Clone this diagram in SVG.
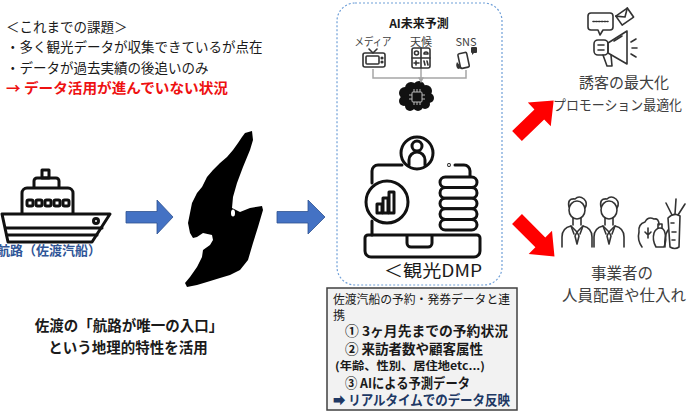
<svg xmlns="http://www.w3.org/2000/svg" width="697" height="414" viewBox="0 0 697 414">
  <defs>
    <style>
      .jp { font-family: "Noto Sans CJK JP", "Noto Sans", sans-serif; }
      .b { font-weight: bold; }
      .dk { fill: #1a1a1a; }
      .gr { fill: #404040; }
      .ico { fill: none; stroke: #111; stroke-width: 3; stroke-linejoin: round; stroke-linecap: round; }
      .thin { fill: none; stroke: #333; stroke-width: 1.6; stroke-linejoin: round; stroke-linecap: round; }
      .blue-arrow { fill: #4472c4; stroke: #2f528f; stroke-width: 0.8; }
      .red-arrow { fill: #ff0000; }
      .feed { fill: none; stroke: #a6a6a6; stroke-width: 1.5; }
    </style>
    <marker id="feedHead" viewBox="0 0 10 10" refX="8" refY="5" markerWidth="4" markerHeight="4" orient="auto">
      <path d="M0 0 L10 5 L0 10 Z" fill="#a6a6a6"/>
    </marker>
  </defs>

  <rect width="697" height="414" fill="#ffffff"/>

  <!-- current issues -->
  <g id="issues" class="jp">
    <text x="6" y="32" font-size="13.5" class="dk">＜これまでの課題＞</text>
    <text x="6" y="52" font-size="13.5" class="dk">・多く観光データが収集できているが点在</text>
    <text x="6" y="73" font-size="13.5" class="dk">・データが過去実績の後追いのみ</text>
    <text x="6" y="93" font-size="14" class="b" fill="#ee1111" textLength="222" lengthAdjust="spacingAndGlyphs">→ データ活用が進んでいない状況</text>
  </g>

  <!-- ferry -->
  <g id="ferry">
    <g class="ico" stroke-width="2.8">
      <rect x="42" y="170" width="7" height="8"/>
      <path d="M34 187 V181 a3 3 0 0 1 3 -3 H56 a3 3 0 0 1 3 3 V187"/>
      <path d="M22 213 V193 a5 5 0 0 1 5 -5 H68 a5 5 0 0 1 5 5 V213"/>
      <rect x="27" y="200" width="6" height="6" rx="1.5"/>
      <rect x="36" y="200" width="6" height="6" rx="1.5"/>
      <rect x="45" y="200" width="6" height="6" rx="1.5"/>
      <rect x="54" y="200" width="6" height="6" rx="1.5"/>
      <rect x="63" y="200" width="6" height="6" rx="1.5"/>
      <path d="M2 214 H110 L92 242 H8 Z"/>
      <path d="M6 228 H102"/>
      <path d="M7 235 H97"/>
      <circle cx="96" cy="221" r="2.5"/>
    </g>
    <text x="-3" y="255" font-size="13" class="jp b" fill="#2f5597">航路（佐渡汽船）</text>
  </g>

  <!-- Sado island -->
  <g id="island">
    <path fill="#000" d="M245 133 L252 131 L253 140 L250 150 L243 167 L237 183 L233 197 L232 208 L240 212 L250 208 L262 206 L263 210 L258 227 L253 243 L248 260 L240 270 L230 275 L220 278 L207 282 L197 285 L187 287 L185 283 L190 277 L197 267 L202 257 L203 250 L210 245 L213 240 L212 235 L203 233 L197 237 L193 238 L190 233 L188 223 L190 213 L192 203 L197 193 L202 187 L207 177 L213 170 L220 163 L227 157 L233 150 L238 143 L242 137 Z"/>
    <ellipse cx="233" cy="213" rx="2" ry="3.5" fill="#fff"/>
  </g>

  <!-- tourism DMP platform -->
  <g id="dmp">
    <rect x="337" y="3" width="165" height="282" rx="18" fill="none" stroke="#6f9fd8" stroke-width="1.2" stroke-dasharray="2 2"/>
    <text x="419" y="28" font-size="12" text-anchor="middle" class="jp b dk">AI未来予測</text>
    <text x="373" y="46" font-size="11" text-anchor="middle" class="jp gr" textLength="37" lengthAdjust="spacingAndGlyphs">メディア</text>
    <text x="421" y="46" font-size="11" text-anchor="middle" class="jp gr">天候</text>
    <text x="466" y="46" font-size="11" text-anchor="middle" class="jp gr">SNS</text>

    <!-- TV -->
    <g class="thin" stroke="#444" stroke-width="1.4">
      <rect x="363" y="53" width="22" height="14" rx="2"/>
      <rect x="366" y="56" width="13" height="8" rx="1"/>
      <path d="M369 49 L373 53 L377 49"/>
      <circle cx="382" cy="58" r="0.8"/>
      <circle cx="382" cy="62" r="0.8"/>
    </g>
    <!-- weather -->
    <g class="thin" stroke="#444" stroke-width="1.2">
      <rect x="412" y="48" width="18" height="20" rx="2"/>
      <path d="M421 48 V68 M412 58 H430"/>
      <circle cx="416.5" cy="53" r="2"/>
      <path d="M424 54 a2 2 0 0 1 4 0 Z"/>
      <path d="M414 63 h5 M416 61 v4"/>
      <path d="M424 61 l1 4 M427 61 l1 4"/>
    </g>
    <!-- SNS phone -->
    <g>
      <rect x="459" y="53" width="9" height="15" rx="1.5" fill="none" stroke="#333" stroke-width="1.6" transform="rotate(-12 463 60)"/>
      <path d="M457 62 q-2 4 1 7 l4 -1 z" fill="#333"/>
      <rect x="471" y="47" width="6" height="6" rx="1" fill="#333"/>
      <path d="M472 53 l0 2 l2 -2 z" fill="#333"/>
    </g>

    <!-- brain -->
    <g fill="#111">
      <circle cx="405" cy="93" r="6"/>
      <circle cx="411" cy="88" r="6"/>
      <circle cx="419" cy="87" r="6"/>
      <circle cx="426" cy="91" r="6"/>
      <circle cx="429" cy="98" r="5"/>
      <circle cx="425" cy="104" r="5"/>
      <circle cx="418" cy="106" r="5"/>
      <circle cx="410" cy="106" r="5"/>
      <circle cx="404" cy="101" r="5"/>
      <rect x="405" y="90" width="22" height="16"/>
    </g>
    <g fill="none" stroke="#bbb" stroke-width="1">
      <rect x="412" y="92" width="10" height="10" rx="1"/>
      <path d="M414 92 v-3 M417 92 v-3 M420 92 v-3 M414 102 v3 M417 102 v3 M420 102 v3 M412 95 h-3 M412 99 h-3 M422 95 h3 M422 99 h3"/>
    </g>

    <!-- laptop with profile, analytics and database -->
    <g class="ico">
      <path d="M402 165 H378 a6 6 0 0 0 -6 6 V183"/>
      <path d="M372 221 V235"/>
      <path d="M455 165 H464 a6 6 0 0 1 6 6 V177"/>
      <circle cx="449" cy="165" r="0.4"/>
      <path d="M368 235 H477 a3 3 0 0 1 3 3 V251 a6 6 0 0 1 -6 6 H371 a6 6 0 0 1 -6 -6 V238 a3 3 0 0 1 3 -3 Z"/>
      <path d="M407 236 V243 a4 4 0 0 0 4 4 H428 a4 4 0 0 0 4 -4 V236"/>
      <circle cx="417" cy="153" r="16" fill="#fff"/>
      <circle cx="417" cy="146" r="5"/>
      <path d="M409 165 V160 a8 8 0 0 1 16 0 V165"/>
      <circle cx="387" cy="202" r="21" fill="#fff"/>
      <rect x="377" y="204" width="5" height="9"/>
      <rect x="383" y="198" width="5" height="15"/>
      <rect x="389" y="192" width="5" height="21"/>
      <rect x="440" y="177" width="37" height="10.6" rx="5.3" fill="#fff"/>
      <rect x="440" y="187.6" width="37" height="10.6" rx="5.3" fill="#fff"/>
      <rect x="440" y="198.2" width="37" height="10.6" rx="5.3" fill="#fff"/>
      <rect x="440" y="208.8" width="37" height="10.6" rx="5.3" fill="#fff"/>
      <rect x="440" y="219.4" width="37" height="10.6" rx="5.3" fill="#fff"/>
    </g>
    <text x="384" y="277" font-size="17" class="jp dk" textLength="98" lengthAdjust="spacingAndGlyphs">＜観光DMP</text>
  </g>

  <!-- data linkage box -->
  <g id="linkage">
    <rect x="327" y="288" width="190" height="122" fill="#f2f2f2" stroke="#404040" stroke-width="1.5"/>
    <text x="333" y="304" font-size="12" class="jp dk" textLength="177" lengthAdjust="spacingAndGlyphs">佐渡汽船の予約・発券データと連</text>
    <text x="333" y="320" font-size="12" class="jp dk">携</text>
    <text x="345" y="336" font-size="13.5" class="jp b dk" textLength="163" lengthAdjust="spacingAndGlyphs">① 3ヶ月先までの予約状況</text>
    <text x="345" y="354" font-size="13.5" class="jp b dk">② 来訪者数や顧客属性</text>
    <text x="335" y="370" font-size="11" class="jp b dk" textLength="150" lengthAdjust="spacingAndGlyphs">(年齢、性別、居住地etc...)</text>
    <text x="345" y="388" font-size="13.5" class="jp b dk" textLength="125" lengthAdjust="spacingAndGlyphs">③ AIによる予測データ</text>
    <text x="333" y="405" font-size="13.5" class="jp b" fill="#203864" textLength="177" lengthAdjust="spacingAndGlyphs">➡ リアルタイムでのデータ反映</text>
  </g>

  <!-- promotion outcome -->
  <g id="promotion">
    <g class="thin" stroke="#222" stroke-width="2">
      <path d="M591 13 H610 a3 3 0 0 1 3 3 V27 a3 3 0 0 1 -3 3 H603 L600 35 L598 30 H591 a3 3 0 0 1 -3 -3 V16 a3 3 0 0 1 3 -3 Z"/>
      <path d="M593 21.5 H608" stroke-dasharray="1.4 1.4"/>
      <g transform="rotate(-35 625 17)">
        <rect x="618" y="11" width="14" height="11"/>
        <path d="M618 11 L625 17 L632 11"/>
      </g>
      <rect x="594" y="40" width="14" height="15" rx="4"/>
      <path d="M598 45 H604 M598 50 H604"/>
      <path d="M608 43 L627 31 V64 L608 53 Z"/>
      <path d="M614 41 L622 36"/>
      <path d="M603 55 L607 66 H612 L611 55"/>
      <path d="M631 42 L636 39 M632 48 H637 M631 54 L636 57"/>
    </g>
    <text x="624" y="88" font-size="15" text-anchor="middle" class="jp gr">誘客の最大化</text>
    <text x="553" y="110" font-size="14" class="jp gr" textLength="129" lengthAdjust="spacingAndGlyphs">プロモーション最適化</text>
  </g>

  <!-- business operators outcome -->
  <g id="operators">
    <g class="thin">
      <ellipse cx="577" cy="210" rx="8" ry="9"/>
      <path d="M569 207 Q567 198 575 199 Q579 195 584 199 Q588 203 585 208"/>
      <path d="M573 218 V225 M581 218 V225"/>
      <path d="M562 247 V237 Q562 228 571 226 L577 232 L583 226 Q592 228 592 237 V247"/>
      <path d="M577 232 L575 236 L577 244 L579 236 Z"/>
      <path d="M571 226 L574 234 M583 226 L580 234"/>
      <ellipse cx="609" cy="210" rx="8" ry="9"/>
      <path d="M601 207 Q599 198 607 199 Q611 195 616 199 Q620 203 617 208"/>
      <path d="M605 218 V225 M613 218 V225"/>
      <path d="M594 247 V237 Q594 228 603 226 L609 232 L615 226 Q624 228 624 237 V247"/>
      <path d="M609 232 L607 236 L609 244 L611 236 Z"/>
      <path d="M603 226 L606 234 M615 226 L612 234"/>
      <!-- vegetables -->
      <path d="M642 247 Q637 240 639 232 Q638 224 645 222 Q648 216 654 219 Q659 218 659 225"/>
      <path d="M648 238 V228 M645 232 L648 235 L651 232"/>
      <path d="M656 247 Q652 240 654 233 Q656 228 660 228 Q664 228 665 233 Q667 240 664 247 Z"/>
      <path d="M658 228 V224 H662 V228"/>
      <path d="M665 247 Q664 236 668 230"/>
      <path d="M670 247 L668 218 Q674 212 680 216 L679 247 Q675 250 670 247 Z"/>
      <path d="M671 223 H674 M672 232 H676 M672 240 H675"/>
      <path d="M672 215 L666 203 M675 214 L676 199 M678 215 L685 204"/>
    </g>
    <text x="622" y="279" font-size="15.5" text-anchor="middle" class="jp gr">事業者の</text>
    <text x="624" y="301" font-size="15.5" text-anchor="middle" class="jp gr">人員配置や仕入れ</text>
  </g>

  <!-- caption -->
  <g id="caption" class="jp b dk">
    <text x="129" y="331" font-size="14.5" text-anchor="middle">佐渡の「航路が唯一の入口」</text>
    <text x="128" y="353" font-size="14.5" text-anchor="middle">という地理的特性を活用</text>
  </g>

  <!-- connectors -->
  <g id="connectors">
    <path class="blue-arrow" d="M126 211.5 H157 V200 L173 217 L157 234 V223 H126 Z"/>
    <path class="blue-arrow" d="M277 211.5 H308 V200 L325 217 L308 234 V223 H277 Z"/>
    <path class="feed" d="M373 69 V78 H466 V70"/>
    <path class="feed" d="M421 69 V82" marker-end="url(#feedHead)"/>
    <path class="red-arrow" transform="translate(517 136) rotate(-44)" d="M0 -7 H31 V-16.5 L51 0 L31 16.5 V7 H0 Z"/>
    <path class="red-arrow" transform="translate(517 219) rotate(45)" d="M0 -7 H33 V-16.5 L53 0 L33 16.5 V7 H0 Z"/>
  </g>
</svg>
